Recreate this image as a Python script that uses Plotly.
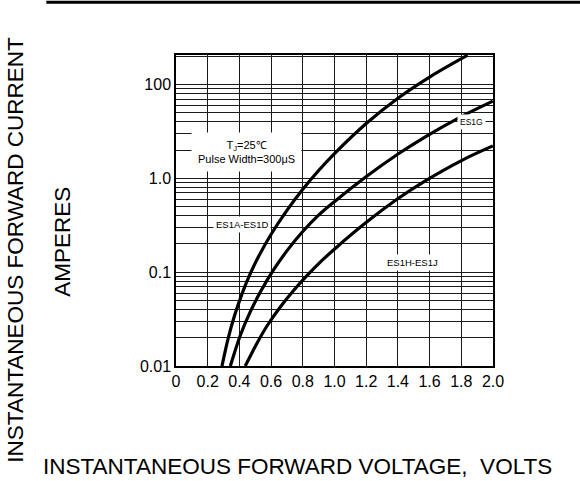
import plotly.graph_objects as go

# ---- data ----
v_es1a_d = [0.29, 0.33, 0.37, 0.42, 0.47, 0.52, 0.60, 0.70, 0.80, 0.90, 1.00, 1.20, 1.40, 1.60, 1.84]
i_es1a_d = [0.0100, 0.0200, 0.0347, 0.0610, 0.0977, 0.146, 0.254, 0.457, 0.767, 1.216, 1.84, 3.85, 7.16, 12.05, 20.6]

v_es1g = [0.343, 0.406, 0.469, 0.532, 0.614, 0.702, 0.797, 0.898, 1.001, 1.201, 1.401, 1.573, 1.794, 1.999]
i_es1g = [0.0100, 0.0213, 0.0380, 0.0614, 0.105, 0.171, 0.268, 0.403, 0.568, 1.047, 1.82, 2.78, 4.51, 6.67]

v_es1h_j = [0.437, 0.511, 0.574, 0.658, 0.742, 0.826, 0.910, 1.001, 1.201, 1.401, 1.573, 1.804, 1.999]
i_es1h_j = [0.0100, 0.0175, 0.0267, 0.0426, 0.0638, 0.0918, 0.128, 0.177, 0.340, 0.610, 0.942, 1.56, 2.22]

x_ticks = [0, 0.2, 0.4, 0.6, 0.8, 1.0, 1.2, 1.4, 1.6, 1.8, 2.0]
x_ticktext = ["0", "0.2", "0.4", "0.6", "0.8", "1.0", "1.2", "1.4", "1.6", "1.8", "2.0"]
y_major = [0.01, 0.1, 1, 10]
y_major_text = ["0.01", "0.1", "1.0", "100"]

# ---- figure ----
FONT = "Liberation Sans, Arial, sans-serif"
fig = go.Figure()
for v, i in [(v_es1a_d, i_es1a_d), (v_es1g, i_es1g), (v_es1h_j, i_es1h_j)]:
    fig.add_trace(go.Scatter(x=v, y=i, mode="lines",
                             line=dict(color="black", width=3.2, shape="spline", smoothing=1.0),
                             showlegend=False, hoverinfo="skip"))

# minor log grid: 2..9 x 10^k
y_minor = []
for k in [0.01, 0.1, 1, 10]:
    for m in range(2, 10):
        val = round(m * k, 6)
        if val <= 20.7:
            y_minor.append(val)

fig.update_xaxes(range=[0, 2.0], tickvals=x_ticks, ticktext=x_ticktext,
                 showgrid=True, gridcolor="#1a1a1a", gridwidth=1,
                 showline=True, mirror=True, linecolor="black", linewidth=1.5,
                 ticks="", zeroline=False,
                 tickfont=dict(family=FONT, size=16, color="black"))
fig.update_yaxes(type="log", range=[-2, 1.316], tickvals=y_major, ticktext=y_major_text,
                 showgrid=True, gridcolor="#1a1a1a", gridwidth=1,
                 minor=dict(tickvals=y_minor, showgrid=True, gridcolor="#1a1a1a", gridwidth=1, ticks=""),
                 showline=True, mirror=True, linecolor="black", linewidth=1.5,
                 ticks="", zeroline=False,
                 tickfont=dict(family=FONT, size=16, color="black"))

ann = [
    dict(x=0.444, y=0.282, xref="x", yref="y", text="T<sub>J</sub>=25\u2103<br>Pulse Width=300\u03bcS",
         font=dict(family=FONT, size=11, color="black"), bgcolor="white", borderpad=6, showarrow=False),
    dict(x=0.416, y=-0.495, xref="x", yref="y", text="ES1A-ES1D",
         font=dict(family=FONT, size=9.5, color="black"), bgcolor="white", borderpad=2, showarrow=False),
    dict(x=1.863, y=0.598, xref="x", yref="y", text="ES1G",
         font=dict(family=FONT, size=8.5, color="black"), bgcolor="white", borderpad=2, showarrow=False),
    dict(x=1.489, y=-0.896, xref="x", yref="y", text="ES1H-ES1J",
         font=dict(family=FONT, size=9.5, color="black"), bgcolor="white", borderpad=2, showarrow=False),
    dict(x=-0.507, y=0.375, xref="paper", yref="paper", text="INSTANTANEOUS FORWARD CURRENT",
         textangle=-90, font=dict(family=FONT, size=22.5, color="black"), showarrow=False,
         xanchor="center", yanchor="middle"),
    dict(x=-0.359, y=0.40, xref="paper", yref="paper", text="AMPERES",
         textangle=-90, font=dict(family=FONT, size=22.5, color="black"), showarrow=False,
         xanchor="center", yanchor="middle"),
    dict(x=0.383, y=-0.323, xref="paper", yref="paper", text="INSTANTANEOUS FORWARD VOLTAGE,&nbsp;&nbsp;VOLTS",
         font=dict(family=FONT, size=22.5, color="black"), showarrow=False,
         xanchor="center", yanchor="middle"),
]

fig.update_layout(
    width=580, height=481,
    margin=dict(l=176, r=87, t=55, b=115),
    paper_bgcolor="white", plot_bgcolor="white",
    annotations=ann,
    shapes=[dict(type="line", xref="paper", yref="paper", x0=-0.409, x1=1.3, y0=1.1697, y1=1.1697,
                 line=dict(color="black", width=3))],
)

fig.write_html("out.html", config={"displayModeBar": False},
               post_script="document.body.style.margin='0';")
